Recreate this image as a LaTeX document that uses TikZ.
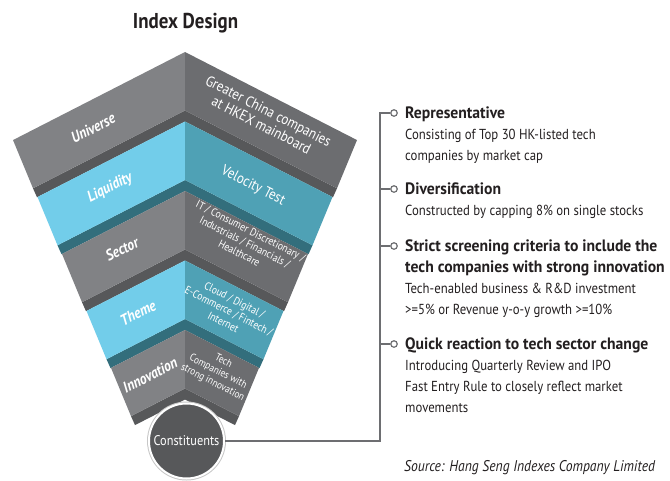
\documentclass[tikz,border=0pt]{standalone}
\usepackage{fontspec}
\setmainfont{PT Sans}[FakeStretch=0.88]
\newfontfamily\headfont{PT Sans}[FakeStretch=0.95]
\usetikzlibrary{calc}

\definecolor{facegray}{HTML}{818285}
\definecolor{sidegray}{HTML}{6C6D70}
\definecolor{edgegray}{HTML}{57585A}
\definecolor{faceblue}{HTML}{72CDEA}
\definecolor{sideblue}{HTML}{4FA1B5}
\definecolor{edgeblue}{HTML}{336E7C}
\definecolor{linegray}{HTML}{6D6E71}
\definecolor{txt}{HTML}{231F20}

\begin{document}
\begin{tikzpicture}[x=1pt,y=-1pt]
  \tikzset{layer/.style={font=\fontsize{15.5}{15.5}\selectfont\bfseries\itshape,text=white,rotate=27},
    detail/.style={font=\fontsize{14.8}{15.5}\selectfont,text=white,rotate=-27,align=center},
    small/.style={font=\fontsize{11}{12.5}\selectfont,text=white,rotate=-27,align=center},
    head/.style={font=\headfont\fontsize{16.5}{21}\selectfont\bfseries,text=txt,anchor=north west,align=left,inner sep=0pt},
    body/.style={font=\fontsize{14.5}{21}\selectfont,text=txt,anchor=north west,align=left,inner sep=0pt},
    dot/.style={circle,draw=linegray,line width=1.2pt,fill=white,inner sep=0pt,minimum size=6.5pt}};
  \useasboundingbox (0,0) rectangle (670,480);

  \node[font=\fontsize{21.5}{21.5}\selectfont\bfseries,text=txt] (title) at (185.5,23) {Index Design};

  % funnel bands: index / front face / side face / under edge
  \foreach \i/\fc/\sc/\ec in {0/facegray/sidegray/edgegray,1/faceblue/sideblue/edgeblue,
      2/facegray/sidegray/edgegray,3/faceblue/sideblue/edgeblue,4/facegray/sidegray/edgegray}{
    \pgfmathsetmacro\A{52+69.5*\i}
    \pgfmathsetmacro\W{172-24.5*\i}
    \fill[\ec] (185,\A+58.5) -- (185-\W+20,\A+58.5+0.512*\W-10.24) -- (185-\W+24,\A+69.5+0.512*\W-12.29) -- (185,\A+69.5) -- cycle;
    \fill[\ec] (185,\A+58.5) -- (185+\W-20,\A+58.5+0.512*\W-10.24) -- (185+\W-24,\A+69.5+0.512*\W-12.29) -- (185,\A+69.5) -- cycle;
    \fill[\fc] (185,\A) -- (185-\W,\A+0.512*\W) -- (185-\W+20,\A+58.5+0.512*\W-10.24) -- (185,\A+58.5) -- cycle;
    \fill[\sc] (185,\A) -- (185+\W,\A+0.512*\W) -- (185+\W-20,\A+58.5+0.512*\W-10.24) -- (185,\A+58.5) -- cycle;
  }

  \node[layer] (univ) at (93,128) {Universe};
  \node[layer] (liq) at (110,188) {Liquidity};
  \node[layer] (sect) at (122,249) {Sector};
  \node[layer] (theme) at (138,313) {Theme};
  \node[layer] (innov) at (150,375) {Innovation};

  \node[detail] (univtxt) at (265,118) {Greater China companies\\at HKEX mainboard};
  \node[detail] (liqtxt) at (253,186) {Velocity Test};
  \node[small] (secttxt) at (245,242) {IT / Consumer Discretionary /\\Industrials / Financials /\\Healthcare};
  \node[small] (themetxt) at (229,311) {Cloud / Digital /\\E-Commerce / Fintech /\\Internet};
  \node[small,font=\fontsize{10.5}{12}\selectfont] (innovtxt) at (218,372) {Tech\\Companies with\\strong innovation};

  \node[circle,fill=edgegray,draw=white,line width=2pt,preaction={draw=black!22,line width=4pt},
    minimum size=75pt,text=white,font=\fontsize{14}{14}\selectfont] (cons) at (186.5,441) {Constituents};

  % criteria list
  \coordinate (corner) at (380,113);
  \node[dot] (d1) at (394,113) {};
  \node[dot] (d2) at (394,189) {};
  \node[dot] (d3) at (394,246) {};
  \node[dot] (d4) at (394,344) {};
  \draw[linegray,line width=1.3pt] (cons.east) -- (cons.east -| corner) -- (corner) -- (d1);
  \draw[linegray,line width=1.3pt] (d2 -| corner) -- (d2);
  \draw[linegray,line width=1.3pt] (d3 -| corner) -- (d3);
  \draw[linegray,line width=1.3pt] (d4 -| corner) -- (d4);

  \node[head] (h1) at (405,106.5) {Representative};
  \node[body] (b1) at (405,128.5) {Consisting of Top 30 HK-listed tech\\companies by market cap};
  \node[head] (h2) at (405,182.5) {Diversification};
  \node[body] (b2) at (405,204.5) {Constructed by capping 8\% on single stocks};
  \node[head] (h3) at (405,239.5) {Strict screening criteria to include the\\tech companies with strong innovation};
  \node[body] (b3) at (405,282.5) {Tech-enabled business \& R\&D investment\\>=5\% or Revenue y-o-y growth >=10\%};
  \node[head] (h4) at (405,337.5) {Quick reaction to tech sector change};
  \node[body] (b4) at (405,359.5) {Introducing Quarterly Review and IPO\\Fast Entry Rule to closely reflect market\\movements};

  \node[font=\fontsize{15.5}{15.5}\selectfont\itshape,text=txt,anchor=base west,inner sep=0pt] (src) at (404,471) {Source: Hang Seng Indexes Company Limited};
\end{tikzpicture}
\end{document}
